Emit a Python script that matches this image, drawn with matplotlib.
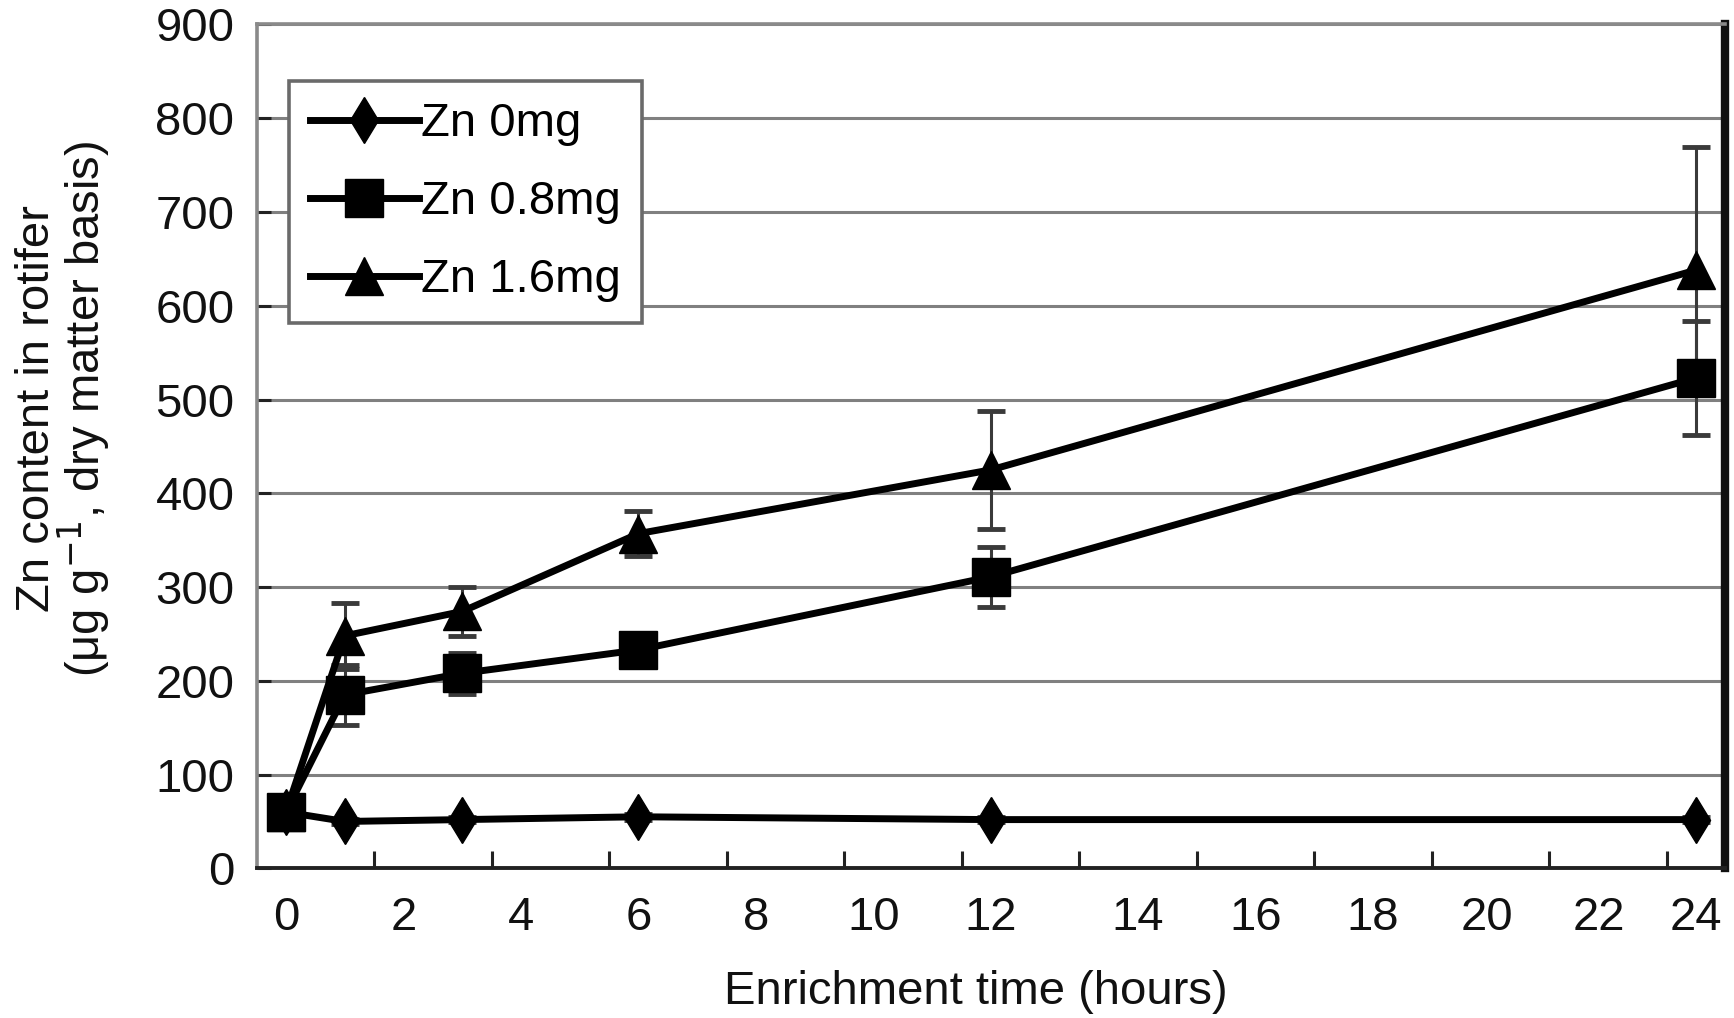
import matplotlib
matplotlib.use("Agg")
import matplotlib.pyplot as plt
from matplotlib.ticker import FixedLocator

plt.rcParams['font.family'] = ['Liberation Sans', 'DejaVu Sans']

# ---- data ----
hours = [0, 1, 3, 6, 12, 24]
zn0 = [60, 50, 52, 55, 52, 52]
zn0_err = [3, 3, 3, 3, 3, 3]
zn08 = [60, 185, 208, 233, 311, 523]
zn08_err = [5, 32, 22, 10, 32, 61]
zn16 = [60, 248, 274, 357, 425, 638]
zn16_err = [5, 35, 26, 24, 63, 131]
series_names = ["Zn 0mg", "Zn 0.8mg", "Zn 1.6mg"]
xtick_labels = ["0", "2", "4", "6", "8", "10", "12", "14", "16", "18", "20", "22", "24"]
xtick_pos = [0, 2, 4, 6, 8, 10, 12, 14.5, 16.5, 18.5, 20.45, 22.35, 24]
xminor_pos = [1.5, 3.5, 5.5, 7.5, 9.5, 11.5, 13.5, 15.5, 17.5, 19.5, 21.5, 23.5]
yticks = [0, 100, 200, 300, 400, 500, 600, 700, 800, 900]

FS = 34

fig = plt.figure(figsize=(17.34, 10.18), dpi=100)
ax = fig.add_axes([0.148, 0.147, 0.847, 0.829])

# grid
for v in yticks[1:]:
    ax.axhline(v, color='#808080', lw=2.2, zorder=0)

markers = ['d', 's', '^']
msizes = [23, 27, 27]
for vals, errs, m, ms, name in zip([zn0, zn08, zn16], [zn0_err, zn08_err, zn16_err],
                                   markers, msizes, series_names):
    ax.errorbar(hours, vals, yerr=errs, fmt='none', ecolor='#3a3a3a',
                elinewidth=2.2, capsize=10, capthick=3.5, zorder=2)
    ax.plot(hours, vals, color='black', lw=5, marker=m, ms=ms,
            markerfacecolor='black', markeredgecolor='black', label=name, zorder=3)

ax.set_xlim(-0.5, 24.5)
ax.set_ylim(0, 900)

ax.set_yticks(yticks)
ax.set_yticklabels([str(v) for v in yticks])
ax.set_xticks(xtick_pos)
ax.set_xticklabels(xtick_labels)
ax.xaxis.set_minor_locator(FixedLocator(xminor_pos))

ax.tick_params(axis='x', which='major', length=0, pad=20, labelsize=FS, labelcolor='#111111')
ax.tick_params(axis='x', which='minor', direction='in', length=12, width=2.2, color='#222222')
ax.tick_params(axis='y', which='major', direction='in', length=10, width=2.2,
               color='#222222', pad=16, labelsize=FS, labelcolor='#111111')

for s in ['left', 'top']:
    ax.spines[s].set_color('#8a8a8a')
    ax.spines[s].set_linewidth(2.6)
ax.spines['bottom'].set_color('#222222')
ax.spines['bottom'].set_linewidth(2.8)
ax.spines['right'].set_color('#111111')
ax.spines['right'].set_linewidth(6)

ax.set_xlabel("Enrichment time (hours)", fontsize=FS, color='#111111')
ax.xaxis.set_label_coords(0.49, -0.147)
ax.xaxis.label.set_va('center')
ax.set_ylabel("Zn content in rotifer\n(\u03bcg g$^{-1}$, dry matter basis)",
              fontsize=FS, color='#111111', linespacing=0.9)
ax.yaxis.set_label_coords(-0.098, 0.545)

leg = ax.legend(loc='upper left', bbox_to_anchor=(0.022, 0.933), fontsize=FS,
                frameon=True, fancybox=False, handlelength=2.3, handletextpad=0.05,
                labelspacing=0.72, borderpad=0.45, borderaxespad=0)
leg.get_frame().set_edgecolor('#6a6a6a')
leg.get_frame().set_linewidth(2.6)
leg.get_frame().set_alpha(1)

fig.savefig("out.png", dpi=100, facecolor='white')
